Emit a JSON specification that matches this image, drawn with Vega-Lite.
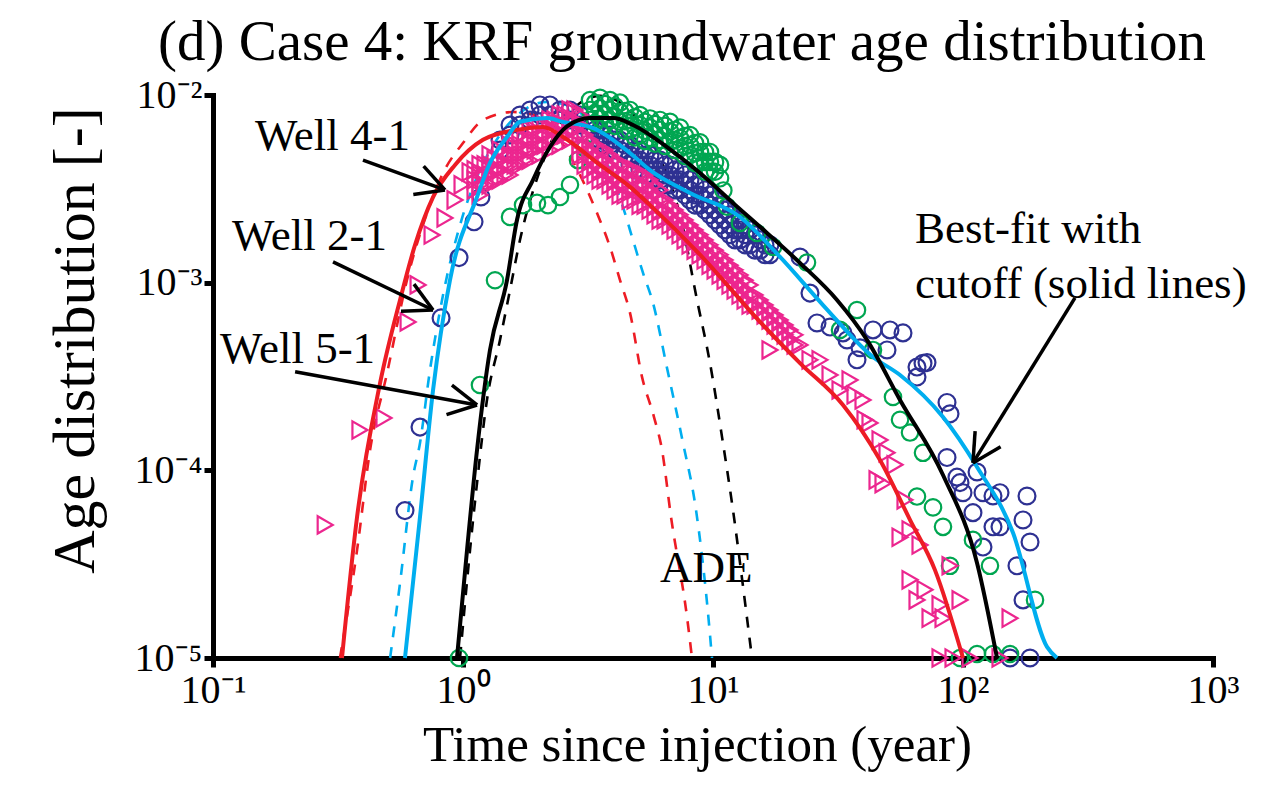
{
"$schema": "https://vega.github.io/schema/vega-lite/v6.json",
"width": 1000, "height": 563,
"autosize": {"type": "none"},
"padding": {"left": 213, "top": 95, "right": 51, "bottom": 127},
"background": "white",
"title": {"text": "(d) Case 4: KRF groundwater age distribution", "font": "Liberation Serif", "fontSize": 57, "fontWeight": "normal", "color": "black", "anchor": "middle", "dx": -31, "dy": 14, "offset": 17},
"datasets": {
"fit": [
{"w":"Well 4-1","t":0.328,"f":1.0e-5},{"w":"Well 4-1","t":0.377,"f":5.65e-5},{"w":"Well 4-1","t":0.466,"f":2.92e-4},{"w":"Well 4-1","t":0.560,"f":8.09e-4},{"w":"Well 4-1","t":0.643,"f":1.59e-3},{"w":"Well 4-1","t":0.759,"f":2.86e-3},{"w":"Well 4-1","t":0.929,"f":4.24e-3},{"w":"Well 4-1","t":1.202,"f":5.77e-3},{"w":"Well 4-1","t":1.644,"f":6.52e-3},{"w":"Well 4-1","t":2.089,"f":6.76e-3},{"w":"Well 4-1","t":2.512,"f":5.97e-3},{"w":"Well 4-1","t":3.532,"f":4.24e-3},{"w":"Well 4-1","t":4.656,"f":3.24e-3},{"w":"Well 4-1","t":5.598,"f":2.59e-3},{"w":"Well 4-1","t":8.872,"f":1.41e-3},{"w":"Well 4-1","t":15.42,"f":6.18e-4},{"w":"Well 4-1","t":22.28,"f":3.73e-4},{"w":"Well 4-1","t":33.11,"f":2.23e-4},{"w":"Well 4-1","t":46.56,"f":1.135e-4},{"w":"Well 4-1","t":61.38,"f":5.45e-5},{"w":"Well 4-1","t":77.27,"f":2.94e-5},{"w":"Well 4-1","t":100,"f":1.0e-5},
{"w":"Well 2-1","t":0.586,"f":1.0e-5},{"w":"Well 2-1","t":0.673,"f":5.65e-5},{"w":"Well 2-1","t":0.759,"f":2.679e-4},{"w":"Well 2-1","t":0.887,"f":1.033e-3},{"w":"Well 2-1","t":1.138,"f":2.86e-3},{"w":"Well 2-1","t":1.282,"f":4.345e-3},{"w":"Well 2-1","t":1.5,"f":5.97e-3},{"w":"Well 2-1","t":1.69,"f":7.2e-3},{"w":"Well 2-1","t":2.168,"f":7.53e-3},{"w":"Well 2-1","t":2.512,"f":7.18e-3},{"w":"Well 2-1","t":3.221,"f":6.76e-3},{"w":"Well 2-1","t":4.656,"f":4.91e-3},{"w":"Well 2-1","t":5.598,"f":3.98e-3},{"w":"Well 2-1","t":8.09,"f":3.006e-3},{"w":"Well 2-1","t":12.82,"f":2.239e-3},{"w":"Well 2-1","t":18.54,"f":1.371e-3},{"w":"Well 2-1","t":27.54,"f":7.6e-4},{"w":"Well 2-1","t":43.65,"f":4.02e-4},{"w":"Well 2-1","t":55.98,"f":3.22e-4},{"w":"Well 2-1","t":83.18,"f":1.923e-4},{"w":"Well 2-1","t":113.8,"f":1.042e-4},{"w":"Well 2-1","t":158.5,"f":4.645e-5},{"w":"Well 2-1","t":216.8,"f":1.146e-5},{"w":"Well 2-1","t":237.7,"f":1.0e-5},
{"w":"Well 5-1","t":0.946,"f":1.0e-5},{"w":"Well 5-1","t":1.038,"f":3.767e-5},{"w":"Well 5-1","t":1.138,"f":1.285e-4},{"w":"Well 5-1","t":1.282,"f":4.375e-4},{"w":"Well 5-1","t":1.5,"f":1.033e-3},{"w":"Well 5-1","t":1.644,"f":2.158e-3},{"w":"Well 5-1","t":1.905,"f":3.524e-3},{"w":"Well 5-1","t":2.228,"f":5.28e-3},{"w":"Well 5-1","t":2.606,"f":6.80e-3},{"w":"Well 5-1","t":3.221,"f":7.53e-3},{"w":"Well 5-1","t":3.981,"f":7.53e-3},{"w":"Well 5-1","t":4.786,"f":6.92e-3},{"w":"Well 5-1","t":6.546,"f":5.28e-3},{"w":"Well 5-1","t":8.872,"f":3.837e-3},{"w":"Well 5-1","t":12.02,"f":2.661e-3},{"w":"Well 5-1","t":16.44,"f":1.841e-3},{"w":"Well 5-1","t":22.28,"f":1.274e-3},{"w":"Well 5-1","t":31.33,"f":8.09e-4},{"w":"Well 5-1","t":41.3,"f":4.955e-4},{"w":"Well 5-1","t":55.98,"f":2.371e-4},{"w":"Well 5-1","t":83.18,"f":9.44e-5},{"w":"Well 5-1","t":113.8,"f":3.21e-5},{"w":"Well 5-1","t":136.8,"f":1.0e-5}
],
"ade": [
{"w":"Well 4-1","t":0.322,"f":1.0e-5},{"w":"Well 4-1","t":0.377,"f":3.767e-5},{"w":"Well 4-1","t":0.425,"f":1.285e-4},{"w":"Well 4-1","t":0.497,"f":3.30e-4},{"w":"Well 4-1","t":0.597,"f":1.033e-3},{"w":"Well 4-1","t":0.718,"f":2.35e-3},{"w":"Well 4-1","t":0.832,"f":3.837e-3},{"w":"Well 4-1","t":1.0,"f":5.546e-3},{"w":"Well 4-1","t":1.202,"f":7.36e-3},{"w":"Well 4-1","t":1.585,"f":8.11e-3},{"w":"Well 4-1","t":1.941,"f":7.82e-3},{"w":"Well 4-1","t":2.443,"f":5.754e-3},{"w":"Well 4-1","t":2.938,"f":3.75e-3},{"w":"Well 4-1","t":3.436,"f":2.35e-3},{"w":"Well 4-1","t":3.873,"f":1.549e-3},{"w":"Well 4-1","t":4.246,"f":1.033e-3},{"w":"Well 4-1","t":4.656,"f":6.90e-4},{"w":"Well 4-1","t":5.2,"f":3.148e-4},{"w":"Well 4-1","t":5.808,"f":1.923e-4},{"w":"Well 4-1","t":6.252,"f":1.285e-4},{"w":"Well 4-1","t":6.792,"f":5.65e-5},{"w":"Well 4-1","t":7.87,"f":1.656e-5},{"w":"Well 4-1","t":8.241,"f":1.0e-5},
{"w":"Well 2-1","t":0.511,"f":1.0e-5},{"w":"Well 2-1","t":0.56,"f":2.512e-5},{"w":"Well 2-1","t":0.631,"f":9.23e-5},{"w":"Well 2-1","t":0.673,"f":1.4e-4},{"w":"Well 2-1","t":0.738,"f":3.43e-4},{"w":"Well 2-1","t":0.832,"f":8.59e-4},{"w":"Well 2-1","t":0.973,"f":2.028e-3},{"w":"Well 2-1","t":1.169,"f":3.98e-3},{"w":"Well 2-1","t":1.406,"f":6.12e-3},{"w":"Well 2-1","t":1.69,"f":8.02e-3},{"w":"Well 2-1","t":2.168,"f":9.18e-3},{"w":"Well 2-1","t":2.679,"f":8.73e-3},{"w":"Well 2-1","t":3.221,"f":6.92e-3},{"w":"Well 2-1","t":3.767,"f":4.345e-3},{"w":"Well 2-1","t":4.365,"f":2.529e-3},{"w":"Well 2-1","t":4.786,"f":1.687e-3},{"w":"Well 2-1","t":5.248,"f":1.127e-3},{"w":"Well 2-1","t":5.754,"f":7.80e-4},{"w":"Well 2-1","t":6.546,"f":3.516e-4},{"w":"Well 2-1","t":7.586,"f":1.4e-4},{"w":"Well 2-1","t":8.551,"f":6.15e-5},{"w":"Well 2-1","t":9.55,"f":1.738e-5},{"w":"Well 2-1","t":9.908,"f":1.0e-5},
{"w":"Well 5-1","t":0.973,"f":1.0e-5},{"w":"Well 5-1","t":1.067,"f":3.767e-5},{"w":"Well 5-1","t":1.138,"f":8.57e-5},{"w":"Well 5-1","t":1.247,"f":2.371e-4},{"w":"Well 5-1","t":1.406,"f":4.955e-4},{"w":"Well 5-1","t":1.542,"f":9.14e-4},{"w":"Well 5-1","t":1.69,"f":1.687e-3},{"w":"Well 5-1","t":2.032,"f":3.98e-3},{"w":"Well 5-1","t":2.443,"f":6.92e-3},{"w":"Well 5-1","t":2.938,"f":9.06e-3},{"w":"Well 5-1","t":3.532,"f":9.89e-3},{"w":"Well 5-1","t":4.325,"f":8.95e-3},{"w":"Well 5-1","t":5.346,"f":6.52e-3},{"w":"Well 5-1","t":6.427,"f":3.98e-3},{"w":"Well 5-1","t":7.379,"f":2.296e-3},{"w":"Well 5-1","t":8.63,"f":8.09e-4},{"w":"Well 5-1","t":9.727,"f":3.73e-4},{"w":"Well 5-1","t":10.96,"f":1.4e-4},{"w":"Well 5-1","t":12.02,"f":6.15e-5},{"w":"Well 5-1","t":13.55,"f":1.803e-5},{"w":"Well 5-1","t":14.32,"f":1.0e-5}
],
"obs": [
{"w":"Well 2-1","t":0.586,"f":6.1e-5},{"w":"Well 2-1","t":0.673,"f":1.70e-4},{"w":"Well 2-1","t":0.817,"f":6.49e-4},{"w":"Well 2-1","t":0.964,"f":1.36e-3},{"w":"Well 2-1","t":1.107,"f":2.11e-3},{"w":"Well 2-1","t":1.180,"f":2.86e-3},
{"w":"Well 2-1","t":1.406,"f":5.09e-3},{"w":"Well 2-1","t":1.406,"f":5.76e-3},{"w":"Well 2-1","t":1.542,"f":6.12e-3},{"w":"Well 2-1","t":1.542,"f":6.92e-3},{"w":"Well 2-1","t":1.690,"f":6.92e-3},{"w":"Well 2-1","t":1.690,"f":7.82e-3},{"w":"Well 2-1","t":1.854,"f":7.36e-3},{"w":"Well 2-1","t":1.854,"f":8.32e-3},{"w":"Well 2-1","t":2.032,"f":7.82e-3},{"w":"Well 2-1","t":2.032,"f":8.85e-3},{"w":"Well 2-1","t":2.228,"f":7.82e-3},{"w":"Well 2-1","t":2.228,"f":8.85e-3},{"w":"Well 2-1","t":2.443,"f":8.32e-3},{"w":"Well 2-1","t":2.443,"f":7.36e-3},{"w":"Well 2-1","t":2.679,"f":8.32e-3},{"w":"Well 2-1","t":2.679,"f":7.36e-3},{"w":"Well 2-1","t":2.938,"f":7.82e-3},{"w":"Well 2-1","t":2.938,"f":6.92e-3},{"w":"Well 2-1","t":3.221,"f":6.92e-3},{"w":"Well 2-1","t":3.221,"f":6.12e-3},{"w":"Well 2-1","t":3.532,"f":6.51e-3},{"w":"Well 2-1","t":3.532,"f":5.76e-3},{"w":"Well 2-1","t":3.873,"f":6.12e-3},{"w":"Well 2-1","t":3.873,"f":5.41e-3},{"w":"Well 2-1","t":4.246,"f":5.76e-3},{"w":"Well 2-1","t":4.246,"f":5.09e-3},
{"w":"Well 2-1","t":3.373,"f":6.51e-3},{"w":"Well 2-1","t":3.373,"f":5.76e-3},{"w":"Well 2-1","t":3.698,"f":6.12e-3},{"w":"Well 2-1","t":3.698,"f":5.41e-3},{"w":"Well 2-1","t":4.055,"f":5.76e-3},{"w":"Well 2-1","t":4.055,"f":5.09e-3},{"w":"Well 2-1","t":4.446,"f":5.41e-3},{"w":"Well 2-1","t":4.446,"f":4.79e-3},
{"w":"Well 2-1","t":4.656,"f":5.41e-3},{"w":"Well 2-1","t":4.656,"f":4.79e-3},{"w":"Well 2-1","t":4.656,"f":4.24e-3},{"w":"Well 2-1","t":5.105,"f":5.09e-3},{"w":"Well 2-1","t":5.105,"f":4.50e-3},{"w":"Well 2-1","t":5.105,"f":3.99e-3},{"w":"Well 2-1","t":5.598,"f":4.79e-3},{"w":"Well 2-1","t":5.598,"f":4.24e-3},{"w":"Well 2-1","t":5.598,"f":3.75e-3},{"w":"Well 2-1","t":6.138,"f":4.50e-3},{"w":"Well 2-1","t":6.138,"f":3.99e-3},{"w":"Well 2-1","t":6.138,"f":3.53e-3},{"w":"Well 2-1","t":6.730,"f":4.24e-3},{"w":"Well 2-1","t":6.730,"f":3.75e-3},{"w":"Well 2-1","t":6.730,"f":3.32e-3},{"w":"Well 2-1","t":7.379,"f":3.99e-3},{"w":"Well 2-1","t":7.379,"f":3.53e-3},{"w":"Well 2-1","t":7.379,"f":3.12e-3},{"w":"Well 2-1","t":8.091,"f":3.53e-3},{"w":"Well 2-1","t":8.091,"f":3.12e-3},{"w":"Well 2-1","t":8.091,"f":2.76e-3},{"w":"Well 2-1","t":8.872,"f":3.32e-3},{"w":"Well 2-1","t":8.872,"f":2.93e-3},{"w":"Well 2-1","t":8.872,"f":2.59e-3},{"w":"Well 2-1","t":9.727,"f":2.93e-3},{"w":"Well 2-1","t":9.727,"f":2.59e-3},{"w":"Well 2-1","t":9.727,"f":2.30e-3},{"w":"Well 2-1","t":10.67,"f":2.59e-3},{"w":"Well 2-1","t":10.67,"f":2.30e-3},{"w":"Well 2-1","t":10.67,"f":2.03e-3},{"w":"Well 2-1","t":11.69,"f":2.30e-3},{"w":"Well 2-1","t":11.69,"f":2.03e-3},{"w":"Well 2-1","t":11.69,"f":1.80e-3},{"w":"Well 2-1","t":12.82,"f":2.16e-3},{"w":"Well 2-1","t":12.82,"f":1.91e-3},{"w":"Well 2-1","t":12.82,"f":1.69e-3},{"w":"Well 2-1","t":14.06,"f":1.91e-3},{"w":"Well 2-1","t":14.06,"f":1.59e-3},{"w":"Well 2-1","t":15.42,"f":1.69e-3},{"w":"Well 2-1","t":15.42,"f":1.49e-3},{"w":"Well 2-1","t":16.90,"f":1.59e-3},{"w":"Well 2-1","t":16.90,"f":1.41e-3},
{"w":"Well 2-1","t":4.875,"f":5.09e-3},{"w":"Well 2-1","t":4.875,"f":4.50e-3},{"w":"Well 2-1","t":4.875,"f":3.99e-3},{"w":"Well 2-1","t":5.346,"f":4.79e-3},{"w":"Well 2-1","t":5.346,"f":4.24e-3},{"w":"Well 2-1","t":5.346,"f":3.75e-3},{"w":"Well 2-1","t":5.861,"f":4.50e-3},{"w":"Well 2-1","t":5.861,"f":3.99e-3},{"w":"Well 2-1","t":5.861,"f":3.53e-3},{"w":"Well 2-1","t":6.427,"f":4.24e-3},{"w":"Well 2-1","t":6.427,"f":3.75e-3},{"w":"Well 2-1","t":6.427,"f":3.32e-3},{"w":"Well 2-1","t":7.047,"f":3.99e-3},{"w":"Well 2-1","t":7.047,"f":3.53e-3},{"w":"Well 2-1","t":7.047,"f":3.12e-3},{"w":"Well 2-1","t":7.727,"f":3.75e-3},{"w":"Well 2-1","t":7.727,"f":3.32e-3},{"w":"Well 2-1","t":7.727,"f":2.93e-3},{"w":"Well 2-1","t":8.472,"f":3.32e-3},{"w":"Well 2-1","t":8.472,"f":2.93e-3},{"w":"Well 2-1","t":8.472,"f":2.59e-3},{"w":"Well 2-1","t":9.290,"f":3.12e-3},{"w":"Well 2-1","t":9.290,"f":2.76e-3},{"w":"Well 2-1","t":9.290,"f":2.44e-3},{"w":"Well 2-1","t":10.19,"f":2.76e-3},{"w":"Well 2-1","t":10.19,"f":2.44e-3},{"w":"Well 2-1","t":10.19,"f":2.16e-3},{"w":"Well 2-1","t":11.17,"f":2.44e-3},{"w":"Well 2-1","t":11.17,"f":2.16e-3},{"w":"Well 2-1","t":11.17,"f":1.91e-3},{"w":"Well 2-1","t":12.25,"f":2.16e-3},{"w":"Well 2-1","t":12.25,"f":1.91e-3},{"w":"Well 2-1","t":12.25,"f":1.69e-3},{"w":"Well 2-1","t":13.43,"f":2.03e-3},{"w":"Well 2-1","t":13.43,"f":1.80e-3},{"w":"Well 2-1","t":13.43,"f":1.59e-3},{"w":"Well 2-1","t":14.72,"f":1.80e-3},{"w":"Well 2-1","t":14.72,"f":1.49e-3},{"w":"Well 2-1","t":16.14,"f":1.59e-3},{"w":"Well 2-1","t":16.14,"f":1.41e-3},
{"w":"Well 2-1","t":22.28,"f":1.37e-3},{"w":"Well 2-1","t":24.43,"f":8.8e-4},{"w":"Well 2-1","t":26.06,"f":6.1e-4},{"w":"Well 2-1","t":29.38,"f":5.8e-4},{"w":"Well 2-1","t":34.36,"f":4.95e-4},{"w":"Well 2-1","t":38.73,"f":4.5e-4},{"w":"Well 2-1","t":43.65,"f":5.6e-4},{"w":"Well 2-1","t":51.05,"f":5.6e-4},{"w":"Well 2-1","t":57.54,"f":5.4e-4},{"w":"Well 2-1","t":37.67,"f":3.88e-4},{"w":"Well 2-1","t":69.18,"f":3.72e-4},{"w":"Well 2-1","t":33.11,"f":5.4e-4},{"w":"Well 2-1","t":49.66,"f":4.38e-4},{"w":"Well 2-1","t":65.46,"f":3.55e-4},{"w":"Well 2-1","t":71.78,"f":3.75e-4},{"w":"Well 2-1","t":65.46,"f":3.14e-4},{"w":"Well 2-1","t":86.3,"f":2.3e-4},{"w":"Well 2-1","t":88.72,"f":2.0e-4},{"w":"Well 2-1","t":86.3,"f":1.17e-4},{"w":"Well 2-1","t":94.6,"f":9.2e-5},{"w":"Well 2-1","t":100,"f":7.6e-5},{"w":"Well 2-1","t":113.8,"f":9.8e-5},{"w":"Well 2-1","t":131.8,"f":7.3e-5},{"w":"Well 2-1","t":180.3,"f":7.3e-5},{"w":"Well 2-1","t":173.8,"f":5.44e-5},{"w":"Well 2-1","t":131.8,"f":5.0e-5},{"w":"Well 2-1","t":109.6,"f":5.95e-5},{"w":"Well 2-1","t":97.28,"f":8.6e-5},{"w":"Well 2-1","t":120.2,"f":7.6e-5},{"w":"Well 2-1","t":140.6,"f":7.6e-5},{"w":"Well 2-1","t":140.6,"f":5.0e-5},{"w":"Well 2-1","t":120.2,"f":3.9e-5},{"w":"Well 2-1","t":185.4,"f":4.15e-5},{"w":"Well 2-1","t":164.4,"f":3.1e-5},{"w":"Well 2-1","t":173.8,"f":2.04e-5},{"w":"Well 2-1","t":185.4,"f":1.0e-5},{"w":"Well 2-1","t":154.2,"f":1.0e-5},
{"w":"Well 5-1","t":0.964,"f":1.0e-5},{"w":"Well 5-1","t":1.169,"f":2.85e-4},{"w":"Well 5-1","t":1.343,"f":1.03e-3},{"w":"Well 5-1","t":1.542,"f":2.24e-3},{"w":"Well 5-1","t":1.738,"f":2.59e-3},{"w":"Well 5-1","t":1.977,"f":2.66e-3},{"w":"Well 5-1","t":2.188,"f":2.59e-3},{"w":"Well 5-1","t":2.443,"f":2.86e-3},{"w":"Well 5-1","t":2.679,"f":3.32e-3},{"w":"Well 5-1","t":2.884,"f":4.5e-3},{"w":"Well 5-1","t":3.076,"f":5.2e-3},
{"w":"Well 5-1","t":3.221,"f":9.40e-3},{"w":"Well 5-1","t":3.221,"f":8.32e-3},{"w":"Well 5-1","t":3.221,"f":7.36e-3},{"w":"Well 5-1","t":3.532,"f":9.65e-3},{"w":"Well 5-1","t":3.532,"f":8.5e-3},{"w":"Well 5-1","t":3.532,"f":7.5e-3},{"w":"Well 5-1","t":3.873,"f":9.40e-3},{"w":"Well 5-1","t":3.873,"f":8.32e-3},{"w":"Well 5-1","t":3.873,"f":7.36e-3},{"w":"Well 5-1","t":4.246,"f":9.1e-3},{"w":"Well 5-1","t":4.246,"f":8.1e-3},{"w":"Well 5-1","t":4.246,"f":7.2e-3},{"w":"Well 5-1","t":4.656,"f":8.32e-3},{"w":"Well 5-1","t":4.656,"f":7.36e-3},{"w":"Well 5-1","t":4.656,"f":6.51e-3},{"w":"Well 5-1","t":5.105,"f":7.82e-3},{"w":"Well 5-1","t":5.105,"f":6.92e-3},{"w":"Well 5-1","t":5.105,"f":6.12e-3},{"w":"Well 5-1","t":5.598,"f":7.5e-3},{"w":"Well 5-1","t":5.598,"f":6.7e-3},{"w":"Well 5-1","t":5.598,"f":5.9e-3},{"w":"Well 5-1","t":6.138,"f":7.36e-3},{"w":"Well 5-1","t":6.138,"f":6.51e-3},{"w":"Well 5-1","t":6.138,"f":5.76e-3},{"w":"Well 5-1","t":6.730,"f":7.2e-3},{"w":"Well 5-1","t":6.730,"f":6.4e-3},{"w":"Well 5-1","t":6.730,"f":5.6e-3},{"w":"Well 5-1","t":7.379,"f":6.7e-3},{"w":"Well 5-1","t":7.379,"f":5.9e-3},{"w":"Well 5-1","t":7.379,"f":5.2e-3},{"w":"Well 5-1","t":8.091,"f":6.12e-3},{"w":"Well 5-1","t":8.091,"f":5.41e-3},{"w":"Well 5-1","t":8.091,"f":4.79e-3},{"w":"Well 5-1","t":8.872,"f":5.6e-3},{"w":"Well 5-1","t":8.872,"f":4.97e-3},{"w":"Well 5-1","t":8.872,"f":4.4e-3},{"w":"Well 5-1","t":9.727,"f":4.97e-3},{"w":"Well 5-1","t":9.727,"f":4.4e-3},{"w":"Well 5-1","t":9.727,"f":3.9e-3},{"w":"Well 5-1","t":10.67,"f":4.24e-3},{"w":"Well 5-1","t":10.67,"f":3.6e-3},
{"w":"Well 5-1","t":3.373,"f":9.07e-3},{"w":"Well 5-1","t":3.373,"f":8.02e-3},{"w":"Well 5-1","t":3.373,"f":7.09e-3},{"w":"Well 5-1","t":3.698,"f":8.95e-3},{"w":"Well 5-1","t":3.698,"f":7.9e-3},{"w":"Well 5-1","t":3.698,"f":7.0e-3},{"w":"Well 5-1","t":4.055,"f":8.7e-3},{"w":"Well 5-1","t":4.055,"f":7.7e-3},{"w":"Well 5-1","t":4.055,"f":6.85e-3},{"w":"Well 5-1","t":4.446,"f":8.2e-3},{"w":"Well 5-1","t":4.446,"f":7.25e-3},{"w":"Well 5-1","t":4.446,"f":6.45e-3},{"w":"Well 5-1","t":4.875,"f":7.6e-3},{"w":"Well 5-1","t":4.875,"f":6.75e-3},{"w":"Well 5-1","t":4.875,"f":5.95e-3},{"w":"Well 5-1","t":5.346,"f":7.2e-3},{"w":"Well 5-1","t":5.346,"f":6.45e-3},{"w":"Well 5-1","t":5.346,"f":5.7e-3},{"w":"Well 5-1","t":5.861,"f":7.0e-3},{"w":"Well 5-1","t":5.861,"f":6.2e-3},{"w":"Well 5-1","t":5.861,"f":5.5e-3},{"w":"Well 5-1","t":6.427,"f":6.85e-3},{"w":"Well 5-1","t":6.427,"f":6.05e-3},{"w":"Well 5-1","t":6.427,"f":5.35e-3},{"w":"Well 5-1","t":7.047,"f":6.51e-3},{"w":"Well 5-1","t":7.047,"f":5.76e-3},{"w":"Well 5-1","t":7.047,"f":5.09e-3},{"w":"Well 5-1","t":7.727,"f":6.05e-3},{"w":"Well 5-1","t":7.727,"f":5.35e-3},{"w":"Well 5-1","t":7.727,"f":4.73e-3},{"w":"Well 5-1","t":8.472,"f":5.55e-3},{"w":"Well 5-1","t":8.472,"f":4.9e-3},{"w":"Well 5-1","t":8.472,"f":4.35e-3},{"w":"Well 5-1","t":9.290,"f":4.97e-3},{"w":"Well 5-1","t":9.290,"f":4.4e-3},{"w":"Well 5-1","t":9.290,"f":3.9e-3},{"w":"Well 5-1","t":10.19,"f":4.4e-3},{"w":"Well 5-1","t":10.19,"f":3.9e-3},
{"w":"Well 5-1","t":11.0,"f":3.1e-3},{"w":"Well 5-1","t":11.38,"f":2.54e-3},{"w":"Well 5-1","t":12.82,"f":2.08e-3},{"w":"Well 5-1","t":15.0,"f":1.84e-3},{"w":"Well 5-1","t":17.38,"f":1.55e-3},{"w":"Well 5-1","t":23.77,"f":1.28e-3},{"w":"Well 5-1","t":37.67,"f":7.15e-4},{"w":"Well 5-1","t":32.21,"f":5.6e-4},{"w":"Well 5-1","t":43.65,"f":4.38e-4},{"w":"Well 5-1","t":52.48,"f":2.46e-4},{"w":"Well 5-1","t":55.98,"f":1.86e-4},{"w":"Well 5-1","t":61.38,"f":1.59e-4},{"w":"Well 5-1","t":69.18,"f":1.24e-4},{"w":"Well 5-1","t":65.46,"f":7.25e-5},{"w":"Well 5-1","t":75.86,"f":6.35e-5},{"w":"Well 5-1","t":83.18,"f":5.0e-5},{"w":"Well 5-1","t":88.72,"f":3.1e-5},{"w":"Well 5-1","t":109.6,"f":4.26e-5},{"w":"Well 5-1","t":128.2,"f":3.1e-5},{"w":"Well 5-1","t":194.1,"f":2.04e-5},{"w":"Well 5-1","t":113.8,"f":1.05e-5},{"w":"Well 5-1","t":131.8,"f":1.05e-5},{"w":"Well 5-1","t":154.2,"f":1.05e-5},{"w":"Well 5-1","t":97.28,"f":1.0e-5},
{"w":"Well 4-1","t":0.281,"f":5.12e-5},{"w":"Well 4-1","t":0.387,"f":1.641e-4},{"w":"Well 4-1","t":0.483,"f":1.901e-4},{"w":"Well 4-1","t":0.603,"f":6.18e-4},{"w":"Well 4-1","t":0.661,"f":9.73e-4},{"w":"Well 4-1","t":0.752,"f":1.795e-3},{"w":"Well 4-1","t":0.847,"f":2.213e-3},{"w":"Well 4-1","t":0.929,"f":2.76e-3},{"w":"Well 4-1","t":0.991,"f":3.32e-3},{"w":"Well 4-1","t":1.067,"f":3.89e-3},
{"w":"Well 4-1","t":1.117,"f":3.99e-3},{"w":"Well 4-1","t":1.117,"f":3.53e-3},{"w":"Well 4-1","t":1.117,"f":3.12e-3},{"w":"Well 4-1","t":1.225,"f":4.24e-3},{"w":"Well 4-1","t":1.225,"f":3.75e-3},{"w":"Well 4-1","t":1.225,"f":3.32e-3},{"w":"Well 4-1","t":1.343,"f":4.50e-3},{"w":"Well 4-1","t":1.343,"f":3.99e-3},{"w":"Well 4-1","t":1.343,"f":3.53e-3},{"w":"Well 4-1","t":1.472,"f":4.79e-3},{"w":"Well 4-1","t":1.472,"f":4.24e-3},{"w":"Well 4-1","t":1.472,"f":3.75e-3},{"w":"Well 4-1","t":1.614,"f":5.41e-3},{"w":"Well 4-1","t":1.614,"f":4.79e-3},{"w":"Well 4-1","t":1.614,"f":4.24e-3},{"w":"Well 4-1","t":1.770,"f":5.76e-3},{"w":"Well 4-1","t":1.770,"f":5.09e-3},{"w":"Well 4-1","t":1.770,"f":4.50e-3},{"w":"Well 4-1","t":1.941,"f":6.51e-3},{"w":"Well 4-1","t":1.941,"f":5.76e-3},{"w":"Well 4-1","t":1.941,"f":5.09e-3},{"w":"Well 4-1","t":2.128,"f":6.92e-3},{"w":"Well 4-1","t":2.128,"f":6.12e-3},{"w":"Well 4-1","t":2.128,"f":5.41e-3},{"w":"Well 4-1","t":2.333,"f":7.36e-3},{"w":"Well 4-1","t":2.333,"f":6.51e-3},{"w":"Well 4-1","t":2.333,"f":5.76e-3},{"w":"Well 4-1","t":2.559,"f":7.82e-3},{"w":"Well 4-1","t":2.559,"f":6.92e-3},{"w":"Well 4-1","t":2.559,"f":6.12e-3},{"w":"Well 4-1","t":2.805,"f":8.32e-3},{"w":"Well 4-1","t":2.805,"f":7.36e-3},{"w":"Well 4-1","t":2.805,"f":6.51e-3},
{"w":"Well 4-1","t":1.169,"f":4.24e-3},{"w":"Well 4-1","t":1.169,"f":3.75e-3},{"w":"Well 4-1","t":1.169,"f":3.32e-3},{"w":"Well 4-1","t":1.169,"f":2.93e-3},{"w":"Well 4-1","t":1.282,"f":4.79e-3},{"w":"Well 4-1","t":1.282,"f":4.24e-3},{"w":"Well 4-1","t":1.282,"f":3.75e-3},{"w":"Well 4-1","t":1.282,"f":3.32e-3},{"w":"Well 4-1","t":1.406,"f":5.09e-3},{"w":"Well 4-1","t":1.406,"f":4.50e-3},{"w":"Well 4-1","t":1.406,"f":3.99e-3},{"w":"Well 4-1","t":1.406,"f":3.53e-3},{"w":"Well 4-1","t":1.542,"f":5.41e-3},{"w":"Well 4-1","t":1.542,"f":4.79e-3},{"w":"Well 4-1","t":1.542,"f":4.24e-3},{"w":"Well 4-1","t":1.542,"f":3.75e-3},{"w":"Well 4-1","t":1.690,"f":6.12e-3},{"w":"Well 4-1","t":1.690,"f":5.41e-3},{"w":"Well 4-1","t":1.690,"f":4.79e-3},{"w":"Well 4-1","t":1.690,"f":4.24e-3},{"w":"Well 4-1","t":1.854,"f":6.51e-3},{"w":"Well 4-1","t":1.854,"f":5.76e-3},{"w":"Well 4-1","t":1.854,"f":5.09e-3},{"w":"Well 4-1","t":1.854,"f":4.50e-3},{"w":"Well 4-1","t":2.032,"f":6.92e-3},{"w":"Well 4-1","t":2.032,"f":6.12e-3},{"w":"Well 4-1","t":2.032,"f":5.41e-3},{"w":"Well 4-1","t":2.032,"f":4.79e-3},{"w":"Well 4-1","t":2.228,"f":7.36e-3},{"w":"Well 4-1","t":2.228,"f":6.51e-3},{"w":"Well 4-1","t":2.228,"f":5.76e-3},{"w":"Well 4-1","t":2.228,"f":5.09e-3},{"w":"Well 4-1","t":2.443,"f":7.82e-3},{"w":"Well 4-1","t":2.443,"f":6.92e-3},{"w":"Well 4-1","t":2.443,"f":6.12e-3},{"w":"Well 4-1","t":2.443,"f":5.41e-3},{"w":"Well 4-1","t":2.679,"f":8.32e-3},{"w":"Well 4-1","t":2.679,"f":7.36e-3},{"w":"Well 4-1","t":2.679,"f":6.51e-3},{"w":"Well 4-1","t":2.679,"f":5.76e-3},{"w":"Well 4-1","t":2.938,"f":7.82e-3},{"w":"Well 4-1","t":2.938,"f":6.92e-3},{"w":"Well 4-1","t":2.938,"f":6.12e-3},{"w":"Well 4-1","t":2.938,"f":5.41e-3},{"w":"Well 4-1","t":2.938,"f":4.79e-3},
{"w":"Well 4-1","t":3.076,"f":6.12e-3},{"w":"Well 4-1","t":3.076,"f":5.41e-3},{"w":"Well 4-1","t":3.076,"f":4.79e-3},{"w":"Well 4-1","t":3.076,"f":4.24e-3},{"w":"Well 4-1","t":3.373,"f":5.41e-3},{"w":"Well 4-1","t":3.373,"f":4.79e-3},{"w":"Well 4-1","t":3.373,"f":4.24e-3},{"w":"Well 4-1","t":3.373,"f":3.75e-3},{"w":"Well 4-1","t":3.698,"f":5.09e-3},{"w":"Well 4-1","t":3.698,"f":4.50e-3},{"w":"Well 4-1","t":3.698,"f":3.99e-3},{"w":"Well 4-1","t":3.698,"f":3.53e-3},{"w":"Well 4-1","t":4.055,"f":4.50e-3},{"w":"Well 4-1","t":4.055,"f":3.99e-3},{"w":"Well 4-1","t":4.055,"f":3.53e-3},{"w":"Well 4-1","t":4.055,"f":3.12e-3},{"w":"Well 4-1","t":4.446,"f":4.24e-3},{"w":"Well 4-1","t":4.446,"f":3.75e-3},{"w":"Well 4-1","t":4.446,"f":3.32e-3},{"w":"Well 4-1","t":4.446,"f":2.93e-3},{"w":"Well 4-1","t":4.875,"f":3.99e-3},{"w":"Well 4-1","t":4.875,"f":3.53e-3},{"w":"Well 4-1","t":4.875,"f":3.12e-3},{"w":"Well 4-1","t":4.875,"f":2.76e-3},{"w":"Well 4-1","t":5.346,"f":3.75e-3},{"w":"Well 4-1","t":5.346,"f":3.32e-3},{"w":"Well 4-1","t":5.346,"f":2.93e-3},{"w":"Well 4-1","t":5.346,"f":2.59e-3},{"w":"Well 4-1","t":5.861,"f":3.32e-3},{"w":"Well 4-1","t":5.861,"f":2.93e-3},{"w":"Well 4-1","t":5.861,"f":2.59e-3},{"w":"Well 4-1","t":5.861,"f":2.30e-3},
{"w":"Well 4-1","t":3.221,"f":5.76e-3},{"w":"Well 4-1","t":3.221,"f":5.09e-3},{"w":"Well 4-1","t":3.221,"f":4.50e-3},{"w":"Well 4-1","t":3.221,"f":3.99e-3},{"w":"Well 4-1","t":3.532,"f":5.09e-3},{"w":"Well 4-1","t":3.532,"f":4.50e-3},{"w":"Well 4-1","t":3.532,"f":3.99e-3},{"w":"Well 4-1","t":3.532,"f":3.53e-3},{"w":"Well 4-1","t":3.873,"f":4.79e-3},{"w":"Well 4-1","t":3.873,"f":4.24e-3},{"w":"Well 4-1","t":3.873,"f":3.75e-3},{"w":"Well 4-1","t":3.873,"f":3.32e-3},{"w":"Well 4-1","t":4.246,"f":4.24e-3},{"w":"Well 4-1","t":4.246,"f":3.75e-3},{"w":"Well 4-1","t":4.246,"f":3.32e-3},{"w":"Well 4-1","t":4.246,"f":2.93e-3},{"w":"Well 4-1","t":4.656,"f":3.99e-3},{"w":"Well 4-1","t":4.656,"f":3.53e-3},{"w":"Well 4-1","t":4.656,"f":3.12e-3},{"w":"Well 4-1","t":4.656,"f":2.76e-3},{"w":"Well 4-1","t":5.105,"f":3.75e-3},{"w":"Well 4-1","t":5.105,"f":3.32e-3},{"w":"Well 4-1","t":5.105,"f":2.93e-3},{"w":"Well 4-1","t":5.105,"f":2.59e-3},{"w":"Well 4-1","t":5.598,"f":3.53e-3},{"w":"Well 4-1","t":5.598,"f":3.12e-3},{"w":"Well 4-1","t":5.598,"f":2.76e-3},{"w":"Well 4-1","t":5.598,"f":2.44e-3},{"w":"Well 4-1","t":6.138,"f":3.12e-3},{"w":"Well 4-1","t":6.138,"f":2.76e-3},{"w":"Well 4-1","t":6.138,"f":2.44e-3},{"w":"Well 4-1","t":6.138,"f":2.16e-3},
{"w":"Well 4-1","t":6.427,"f":2.76e-3},{"w":"Well 4-1","t":6.427,"f":2.44e-3},{"w":"Well 4-1","t":6.427,"f":2.16e-3},{"w":"Well 4-1","t":7.047,"f":2.44e-3},{"w":"Well 4-1","t":7.047,"f":2.16e-3},{"w":"Well 4-1","t":7.047,"f":1.91e-3},{"w":"Well 4-1","t":7.727,"f":2.16e-3},{"w":"Well 4-1","t":7.727,"f":1.91e-3},{"w":"Well 4-1","t":7.727,"f":1.69e-3},{"w":"Well 4-1","t":8.472,"f":1.91e-3},{"w":"Well 4-1","t":8.472,"f":1.69e-3},{"w":"Well 4-1","t":8.472,"f":1.49e-3},{"w":"Well 4-1","t":9.290,"f":1.69e-3},{"w":"Well 4-1","t":9.290,"f":1.49e-3},{"w":"Well 4-1","t":9.290,"f":1.32e-3},{"w":"Well 4-1","t":10.19,"f":1.49e-3},{"w":"Well 4-1","t":10.19,"f":1.32e-3},{"w":"Well 4-1","t":10.19,"f":1.17e-3},{"w":"Well 4-1","t":11.17,"f":1.32e-3},{"w":"Well 4-1","t":11.17,"f":1.17e-3},{"w":"Well 4-1","t":11.17,"f":1.03e-3},{"w":"Well 4-1","t":12.25,"f":1.17e-3},{"w":"Well 4-1","t":12.25,"f":1.03e-3},{"w":"Well 4-1","t":12.25,"f":9.14e-4},{"w":"Well 4-1","t":13.43,"f":1.03e-3},{"w":"Well 4-1","t":13.43,"f":9.14e-4},{"w":"Well 4-1","t":13.43,"f":8.09e-4},{"w":"Well 4-1","t":14.72,"f":8.60e-4},{"w":"Well 4-1","t":14.72,"f":7.60e-4},{"w":"Well 4-1","t":16.14,"f":7.60e-4},{"w":"Well 4-1","t":16.14,"f":6.73e-4},{"w":"Well 4-1","t":17.70,"f":6.73e-4},{"w":"Well 4-1","t":17.70,"f":5.95e-4},{"w":"Well 4-1","t":19.41,"f":5.95e-4},{"w":"Well 4-1","t":19.41,"f":5.27e-4},{"w":"Well 4-1","t":21.28,"f":5.27e-4},{"w":"Well 4-1","t":21.28,"f":4.66e-4},
{"w":"Well 4-1","t":6.730,"f":2.59e-3},{"w":"Well 4-1","t":6.730,"f":2.30e-3},{"w":"Well 4-1","t":6.730,"f":2.03e-3},{"w":"Well 4-1","t":7.379,"f":2.30e-3},{"w":"Well 4-1","t":7.379,"f":2.03e-3},{"w":"Well 4-1","t":7.379,"f":1.80e-3},{"w":"Well 4-1","t":8.091,"f":2.03e-3},{"w":"Well 4-1","t":8.091,"f":1.80e-3},{"w":"Well 4-1","t":8.091,"f":1.59e-3},{"w":"Well 4-1","t":8.872,"f":1.80e-3},{"w":"Well 4-1","t":8.872,"f":1.59e-3},{"w":"Well 4-1","t":8.872,"f":1.41e-3},{"w":"Well 4-1","t":9.727,"f":1.59e-3},{"w":"Well 4-1","t":9.727,"f":1.41e-3},{"w":"Well 4-1","t":9.727,"f":1.24e-3},{"w":"Well 4-1","t":10.67,"f":1.41e-3},{"w":"Well 4-1","t":10.67,"f":1.24e-3},{"w":"Well 4-1","t":10.67,"f":1.10e-3},{"w":"Well 4-1","t":11.69,"f":1.24e-3},{"w":"Well 4-1","t":11.69,"f":1.10e-3},{"w":"Well 4-1","t":11.69,"f":9.72e-4},{"w":"Well 4-1","t":12.82,"f":1.10e-3},{"w":"Well 4-1","t":12.82,"f":9.72e-4},{"w":"Well 4-1","t":12.82,"f":8.60e-4},{"w":"Well 4-1","t":14.06,"f":9.72e-4},{"w":"Well 4-1","t":14.06,"f":8.60e-4},{"w":"Well 4-1","t":14.06,"f":7.60e-4},{"w":"Well 4-1","t":15.42,"f":8.09e-4},{"w":"Well 4-1","t":15.42,"f":7.15e-4},{"w":"Well 4-1","t":16.90,"f":7.15e-4},{"w":"Well 4-1","t":16.90,"f":6.33e-4},{"w":"Well 4-1","t":18.54,"f":6.33e-4},{"w":"Well 4-1","t":18.54,"f":5.60e-4},{"w":"Well 4-1","t":20.32,"f":5.60e-4},{"w":"Well 4-1","t":20.32,"f":4.95e-4},
{"w":"Well 4-1","t":16.90,"f":4.38e-4},{"w":"Well 4-1","t":22.28,"f":4.66e-4},{"w":"Well 4-1","t":24.43,"f":3.88e-4},{"w":"Well 4-1","t":26.79,"f":3.88e-4},{"w":"Well 4-1","t":29.38,"f":3.22e-4},{"w":"Well 4-1","t":32.21,"f":2.68e-4},{"w":"Well 4-1","t":35.32,"f":3.03e-4},{"w":"Well 4-1","t":36.98,"f":2.52e-4},{"w":"Well 4-1","t":39.81,"f":2.37e-4},{"w":"Well 4-1","t":40.55,"f":1.86e-4},{"w":"Well 4-1","t":42.46,"f":1.79e-4},{"w":"Well 4-1","t":46.56,"f":1.45e-4},{"w":"Well 4-1","t":49.66,"f":1.24e-4},{"w":"Well 4-1","t":53.46,"f":1.07e-4},{"w":"Well 4-1","t":45.29,"f":8.89e-5},{"w":"Well 4-1","t":47.86,"f":8.5e-5},{"w":"Well 4-1","t":58.61,"f":6.96e-5},{"w":"Well 4-1","t":61.38,"f":4.81e-5},{"w":"Well 4-1","t":55.98,"f":4.4e-5},{"w":"Well 4-1","t":67.30,"f":4.0e-5},{"w":"Well 4-1","t":61.38,"f":2.61e-5},{"w":"Well 4-1","t":70.47,"f":2.31e-5},{"w":"Well 4-1","t":65.46,"f":2.04e-5},{"w":"Well 4-1","t":73.79,"f":1.63e-5},{"w":"Well 4-1","t":80.91,"f":1.92e-5},{"w":"Well 4-1","t":83.18,"f":1.63e-5},{"w":"Well 4-1","t":97.28,"f":2.04e-5},{"w":"Well 4-1","t":154.2,"f":1.63e-5},{"w":"Well 4-1","t":88.72,"f":3.1e-5},{"w":"Well 4-1","t":80.91,"f":1.0e-5},{"w":"Well 4-1","t":91.2,"f":1.0e-5},{"w":"Well 4-1","t":106.7,"f":1.0e-5},{"w":"Well 4-1","t":140.6,"f":1.0e-5}
],
"arrows": [
{"t":0.398,"f":4.50e-3,"t2":0.847,"f2":3.12e-3},{"t":0.847,"f":3.12e-3,"t2":0.6327,"f2":2.95e-3},{"t":0.847,"f":3.12e-3,"t2":0.6958,"f2":4.175e-3},
{"t":0.302,"f":1.29e-3,"t2":0.759,"f2":7.15e-4},{"t":0.759,"f":7.15e-4,"t2":0.5649,"f2":7.04e-4},{"t":0.759,"f":7.15e-4,"t2":0.6368,"f2":9.82e-4},
{"t":0.213,"f":3.35e-4,"t2":1.138,"f2":2.23e-4},{"t":1.138,"f":2.23e-4,"t2":0.859,"f2":1.98e-4},{"t":1.138,"f":2.23e-4,"t2":0.903,"f2":2.844e-4},
{"t":280.5,"f":8.29e-4,"t2":109.6,"f2":1.095e-4},{"t":109.6,"f":1.095e-4,"t2":111.8,"f2":1.62e-4},{"t":109.6,"f":1.095e-4,"t2":141.4,"f2":1.334e-4}
],
"notes": [
{"label":"Well 4-1","t":0.1472,"f":5.09e-3},{"label":"Well 2-1","t":0.1191,"f":1.49e-3},{"label":"Well 5-1","t":0.1067,"f":3.73e-4},{"label":"ADE","t":6.138,"f":2.55e-5},{"label":"Best-fit with","t":64.27,"f":1.63e-3},{"label":"cutoff (solid lines)","t":64.27,"f":8.3e-4}
]
},
"layer": [
{"data": {"name": "ade"}, "mark": {"type": "line", "strokeWidth": 2.6, "strokeDash": [11, 10], "strokeCap": "butt", "interpolate": "monotone"},
 "encoding": {"x": {"field": "t", "type": "quantitative"}, "y": {"field": "f", "type": "quantitative"}, "stroke": {"field": "w", "type": "nominal", "scale": {"domain": ["Well 4-1","Well 2-1","Well 5-1"], "range": ["#ed1c24","#00aeef","#000000"]}, "legend": null}}},
{"data": {"name": "obs"}, "mark": {"type": "point", "filled": false, "strokeWidth": 2.2, "opacity": 1},
 "encoding": {"x": {"field": "t", "type": "quantitative"}, "y": {"field": "f", "type": "quantitative"},
  "color": {"field": "w", "type": "nominal", "scale": {"domain": ["Well 4-1","Well 2-1","Well 5-1"], "range": ["#ec268f","#2e3192","#00a651"]}, "legend": null},
  "shape": {"field": "w", "type": "nominal", "scale": {"domain": ["Well 4-1","Well 2-1","Well 5-1"], "range": ["triangle-right","circle","circle"]}, "legend": null},
  "size": {"field": "w", "type": "nominal", "scale": {"domain": ["Well 4-1","Well 2-1","Well 5-1"], "range": [300, 270, 270]}, "legend": null}}},
{"data": {"name": "fit"}, "mark": {"type": "line", "strokeWidth": 4, "interpolate": "monotone"},
 "encoding": {"x": {"field": "t", "type": "quantitative"}, "y": {"field": "f", "type": "quantitative"}, "stroke": {"field": "w", "type": "nominal", "legend": null}}},
{"data": {"name": "arrows"}, "mark": {"type": "rule", "color": "black", "strokeWidth": 3.5},
 "encoding": {"x": {"field": "t", "type": "quantitative"}, "y": {"field": "f", "type": "quantitative"}, "x2": {"field": "t2"}, "y2": {"field": "f2"}}},
{"data": {"name": "notes"}, "mark": {"type": "text", "align": "left", "baseline": "alphabetic", "font": "Liberation Serif", "fontSize": 45, "color": "black"},
 "encoding": {"x": {"field": "t", "type": "quantitative", "scale": {"type": "log", "domain": [0.1, 1000], "nice": false},
   "axis": {"values": [0.1, 1, 10, 100, 1000], "labelExpr": "datum.value < 0.5 ? '10⁻¹' : datum.value < 5 ? '10⁰' : datum.value < 50 ? '10¹' : datum.value < 500 ? '10²' : '10³'", "title": "Time since injection (year)", "titleFontSize": 51, "titleX": 484, "titleY": 102, "titleBaseline": "alphabetic", "labelPadding": 3, "labelAlign": "center", "labelDx": 10}},
  "y": {"field": "f", "type": "quantitative", "scale": {"type": "log", "domain": [0.00001, 0.01], "nice": false},
   "axis": {"values": [0.00001, 0.0001, 0.001, 0.01], "labelExpr": "datum.value < 0.00005 ? '10⁻⁵' : datum.value < 0.0005 ? '10⁻⁴' : datum.value < 0.005 ? '10⁻³' : '10⁻²'", "title": "Age distribution [-]", "titleFontSize": 60, "titleX": -120, "titleY": 245, "titleAngle": -90, "titleAlign": "center", "titleBaseline": "alphabetic", "labelPadding": 2}},
  "text": {"field": "label"}}}
],
"config": {
 "view": {"stroke": null},
 "axis": {"grid": false, "domainColor": "black", "tickColor": "black", "domainWidth": 5, "tickWidth": 5, "tickSize": 9, "domainCap": "square", "labelFont": "Liberation Serif", "titleFont": "Liberation Serif", "labelColor": "black", "titleColor": "black", "titleFontWeight": "normal", "labelFontSize": 40, "labelFlush": false, "labelOverlap": false}
}
}
